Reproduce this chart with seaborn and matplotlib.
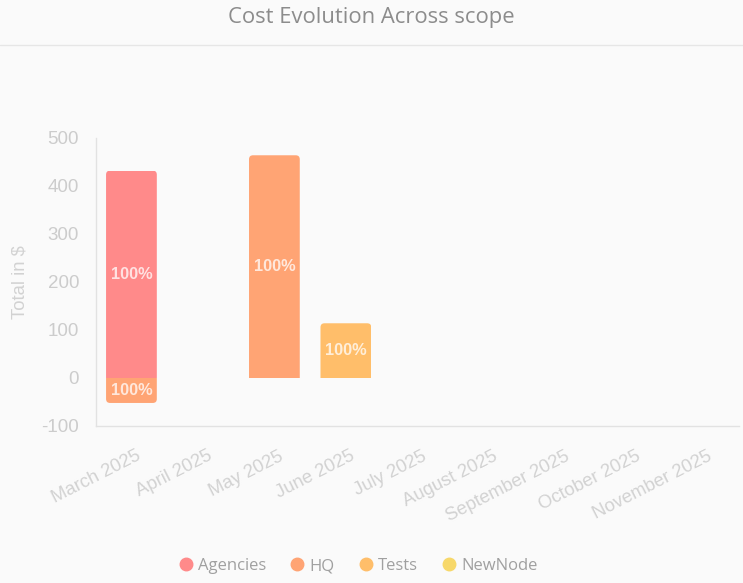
import numpy as np
import pandas as pd
import matplotlib.pyplot as plt
import matplotlib.transforms as mtransforms
from matplotlib.lines import Line2D
from matplotlib.patches import FancyBboxPatch
import seaborn as sns

# data
months = ["March 2025", "April 2025", "May 2025", "June 2025", "July 2025",
          "August 2025", "September 2025", "October 2025", "November 2025"]
series = ["Agencies", "HQ", "Tests", "NewNode"]
agencies = [432, 0, 0, 0, 0, 0, 0, 0, 0]
hq = [-52, 0, 464, 0, 0, 0, 0, 0, 0]
tests = [0, 0, 0, 114, 0, 0, 0, 0, 0]
newnode = [0, 0, 0, 0, 0, 0, 0, 0, 0]
colors = ["#ff8a8a", "#ffa474", "#ffbe6a", "#f7d86a"]
y_ticks = [-100, 0, 100, 200, 300, 400, 500]

sns.set_theme(style="white")
plt.rcParams["font.family"] = ["Liberation Sans", "DejaVu Sans"]
plt.rcParams["axes.unicode_minus"] = False

bg = "#fafafa"
fig = plt.figure(figsize=(7.43, 5.83), dpi=100, facecolor=bg)
ax = fig.add_axes([0.1288, 0.2693, 0.8658, 0.494])
ax.set_facecolor(bg)

values = [np.array(v, dtype=float) for v in (agencies, hq, tests, newnode)]
pos_total = np.sum([np.clip(v, 0, None) for v in values], axis=0)
neg_total = np.sum([np.clip(v, None, 0) for v in values], axis=0)
pos_base = np.zeros(len(months))
neg_base = np.zeros(len(months))

drawn = []
for name, vals, col in zip(series, values, colors):
    bottom = np.where(vals >= 0, pos_base, neg_base)
    n_before = len(ax.patches)
    sns.barplot(x=months, y=vals, order=months, color=col, width=0.71,
                saturation=1, errorbar=None, linewidth=0, bottom=bottom, ax=ax)
    bars = ax.patches[n_before:]
    for i, bar in enumerate(bars):
        if vals[i] == 0:
            continue
        tot = pos_total[i] if vals[i] > 0 else neg_total[i]
        drawn.append((bar, bottom[i], vals[i], 100 * vals[i] / tot))
    pos_base = pos_base + np.clip(vals, 0, None)
    neg_base = neg_base + np.clip(vals, None, 0)

ax.set_ylim(-100, 500)
ax.set_xlim(-0.5, len(months) - 0.5)
ax.set_yticks(y_ticks)

# rounded outer corners on each bar (clip with a rounded box)
p0 = ax.transData.transform([[0, 0]])[0]
p1 = ax.transData.transform([[1, 1]])[0]
px_x, px_y = p1[0] - p0[0], p1[1] - p0[1]
r = 4 / px_x
aspect = px_x / px_y
for bar, b, h, pct in drawn:
    x0, w = bar.get_x(), bar.get_width()
    y_lo = b - abs(h) if h > 0 else b + h
    clip = FancyBboxPatch((x0, y_lo), w, 2 * abs(h),
                          boxstyle=f"round,pad=0,rounding_size={r}",
                          mutation_aspect=aspect, transform=ax.transData)
    bar.set_clip_path(clip)
    ax.text(x0 + w / 2, b + h / 2, f"{pct:.0f}%", ha="center", va="center",
            color="white", alpha=0.75, fontsize=11.8, fontweight="bold")

sns.despine(ax=ax)
for s in ("left", "bottom"):
    ax.spines[s].set_color("#e2e2e2")
    ax.spines[s].set_linewidth(1)

ax.tick_params(axis="y", length=0, pad=12, labelcolor="#cccccc", labelsize=13.5)
ax.tick_params(axis="x", length=0, pad=21, labelcolor="#d2d2d2", labelsize=13.3)
ax.set_xlabel("")
shift = mtransforms.ScaledTranslation(8 / 100, 0, fig.dpi_scale_trans)
for lab in ax.get_xticklabels():
    lab.set_rotation(27)
    lab.set_ha("right")
    lab.set_va("center")
    lab.set_rotation_mode("anchor")
    lab.set_transform(lab.get_transform() + shift)

ax.set_ylabel("Total in $", color="#d2d2d2", fontsize=13.3)
ax.yaxis.set_label_coords(-0.104, 0.5)

fig.text(0.5, 1 - 17 / 583, "Cost Evolution Across scope", ha="center", va="center",
         family=["Open Sans", "DejaVu Sans"], fontsize=15.8, color="#8c8c8c")
fig.add_artist(Line2D([0, 1], [1 - 45 / 583] * 2, color="#e6e6e6", lw=1))

handles = [Line2D([], [], marker="o", ls="", markersize=9,
                  markerfacecolor=c, markeredgecolor=c) for c in colors]
fig.legend(handles, series, loc="center", bbox_to_anchor=(0.4825, 0.029), ncol=4,
           frameon=False, prop={"family": ["Open Sans", "DejaVu Sans"], "size": 12},
           labelcolor="#a0a0a0", handlelength=0.8, handletextpad=0.35,
           columnspacing=1.45)

fig.savefig("out.png", dpi=100, facecolor=bg)
